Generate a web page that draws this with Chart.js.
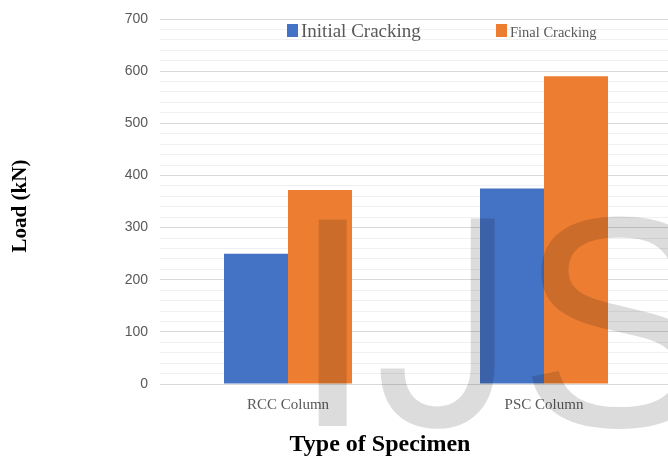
<!DOCTYPE html>
<html>
<head>
<meta charset="utf-8">
<script src="https://cdn.jsdelivr.net/npm/chart.js@4/dist/chart.umd.min.js"></script>
<style>
  html, body { margin: 0; padding: 0; background: #fff; overflow: hidden; }
  #wrap { width: 672px; height: 461px; position: relative; }
</style>
</head>
<body>
<div id="wrap"><canvas id="c" width="672" height="461"></canvas></div>
<script>
// Specimen types and measured loads (kN)
const categories = ['RCC Column', 'PSC Column'];
const initialCracking = [250, 375];
const finalCracking = [372, 590];
const seriesNames = ['Initial Cracking', 'Final Cracking'];
const seriesColors = ['#4472C4', '#ED7D31'];
const yMax = 700;
const majorStep = 100;
const minorStep = 20;

// Legend drawn at the top of the plot, each entry with its own text size
const legendPlugin = {
  id: 'topLegend',
  afterDraw(chart) {
    const ctx = chart.ctx;
    ctx.save();
    const entries = [
      { size: 19, label: seriesNames[0], color: seriesColors[0], sq: [287, 24, 11, 13] },
      { size: 14.5, label: seriesNames[1], color: seriesColors[1], sq: [496, 24, 11, 13] }
    ];
    entries.forEach(e => {
      ctx.fillStyle = e.color;
      ctx.fillRect(e.sq[0], e.sq[1], e.sq[2], e.sq[3]);
      ctx.fillStyle = '#595959';
      ctx.font = e.size + 'px "Liberation Serif", "Times New Roman", serif';
      ctx.textBaseline = 'alphabetic';
      ctx.textAlign = 'left';
      ctx.fillText(e.label, e.sq[0] + e.sq[2] + 3, 37);
    });
    ctx.restore();
  }
};

// Axis titles
const titlesPlugin = {
  id: 'axisTitles',
  afterDraw(chart) {
    const ctx = chart.ctx;
    ctx.save();
    ctx.fillStyle = '#000';
    ctx.textAlign = 'center';
    ctx.textBaseline = 'middle';
    ctx.font = 'bold 24px "Liberation Serif", "Times New Roman", serif';
    ctx.fillText('Type of Specimen', 380, 445);
    ctx.translate(21, 206);
    ctx.rotate(-Math.PI / 2);
    ctx.font = 'bold 21px "Liberation Serif", "Times New Roman", serif';
    ctx.fillText('Load (kN)', 0, 0);
    ctx.restore();
  }
};

// Grey "IJS" mark laid over the chart
const markPlugin = {
  id: 'ijsMark',
  afterDraw(chart) {
    const ctx = chart.ctx;
    ctx.save();
    ctx.globalCompositeOperation = 'multiply';
    ctx.fillStyle = '#dcdcdc';
    ctx.textAlign = 'left';
    ctx.textBaseline = 'alphabetic';
    ctx.font = '300px "Liberation Sans", Arial, sans-serif';
    ctx.fillText('I', 291, 426);
    ctx.fillText('S', 518, 426);
    ctx.translate(374, 426);
    ctx.scale(0.87, 1);
    ctx.font = '292px Roboto, "Liberation Sans", sans-serif';
    ctx.fillText('J', 0, 0);
    ctx.restore();
  }
};

new Chart(document.getElementById('c'), {
  type: 'bar',
  data: {
    labels: categories,
    datasets: [
      { label: seriesNames[0], data: initialCracking, backgroundColor: seriesColors[0] },
      { label: seriesNames[1], data: finalCracking, backgroundColor: seriesColors[1] }
    ]
  },
  options: {
    responsive: false,
    animation: false,
    devicePixelRatio: 1,
    layout: { padding: { top: 9, right: 0, left: 0, bottom: 0 } },
    datasets: { bar: { categoryPercentage: 0.5, barPercentage: 1.0 } },
    plugins: { legend: { display: false }, tooltip: { enabled: false } },
    scales: {
      x: {
        grid: { display: false },
        border: { display: false },
        ticks: {
          color: '#595959',
          font: { family: '"Liberation Serif", "Times New Roman", serif', size: 15 },
          padding: 4
        },
        afterFit(scale) { scale.height = 77; }
      },
      y: {
        min: 0,
        max: yMax,
        border: { display: false },
        grid: {
          drawTicks: false,
          lineWidth: 1,
          color: ctx => (ctx.tick && ctx.tick.value % majorStep === 0) ? '#d9d9d9' : '#f0f0f0'
        },
        ticks: {
          stepSize: minorStep,
          autoSkip: false,
          padding: 12,
          color: '#595959',
          font: { family: '"Liberation Sans", Arial, sans-serif', size: 14, lineHeight: 1 },
          callback: v => (v % majorStep === 0 ? String(v) : '')
        },
        afterFit(scale) { scale.width = 160; }
      }
    }
  },
  plugins: [legendPlugin, titlesPlugin, markPlugin]
});
</script>
</body>
</html>
